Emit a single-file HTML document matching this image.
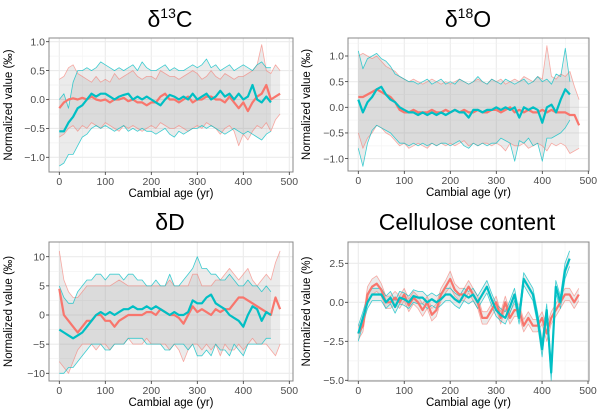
<!DOCTYPE html>
<html><head><meta charset="utf-8"><style>
html,body{margin:0;padding:0;background:#fff;width:600px;height:415px;overflow:hidden}
svg{display:block;font-family:"Liberation Sans",sans-serif}
</style></head><body>
<svg id="chart" width="600" height="415" viewBox="0 0 600 415"></svg>
<script>
// ---- data (ages: step 10 yr from 0) ----
const ageStep = 10;
const xTicks = [0,100,200,300,400,500];
// d13C
const c13RedMean=[-0.15,-0.05,0.0,0.02,0.0,0.03,0.0,0.05,0.0,-0.02,0.0,-0.05,0.0,0.0,0.03,-0.03,0.0,-0.05,-0.05,-0.1,-0.05,-0.05,0.05,0.1,0.0,0.0,-0.05,0.0,0.05,-0.05,0.0,0.0,0.05,0.05,0.0,0.0,-0.05,0.05,-0.05,-0.15,-0.05,-0.2,-0.05,0.05,0.1,0.25,0.0,0.05,0.1];
const c13CyanMean=[-0.55,-0.55,-0.4,-0.3,-0.15,-0.1,0.0,0.1,0.05,0.1,0.1,0.05,0.0,0.05,0.08,0.1,0.0,0.05,0.0,0.05,0.0,-0.05,-0.1,0.0,0.08,0.05,0.0,0.05,0.0,0.1,0.0,0.05,0.1,0.0,0.05,0.15,0.05,0.1,0.0,0.1,0.0,0.05,0.25,0.0,-0.05,0.05,-0.05];
const c13RedUp=[0.35,0.4,0.55,0.6,0.45,0.4,0.35,0.3,0.4,0.3,0.35,0.3,0.45,0.35,0.4,0.45,0.5,0.4,0.35,0.4,0.4,0.35,0.5,0.45,0.4,0.4,0.35,0.4,0.45,0.5,0.45,0.35,0.4,0.5,0.4,0.35,0.45,0.4,0.35,0.4,0.4,0.45,0.5,0.6,0.95,0.5,0.45,0.6,0.5];
const c13RedLo=[-0.65,-0.6,-0.5,-0.45,-0.55,-0.45,-0.5,-0.4,-0.45,-0.5,-0.4,-0.45,-0.5,-0.55,-0.45,-0.5,-0.45,-0.5,-0.55,-0.5,-0.45,-0.5,-0.4,-0.45,-0.5,-0.5,-0.45,-0.5,-0.55,-0.5,-0.45,-0.5,-0.4,-0.45,-0.5,-0.6,-0.5,-0.45,-0.55,-0.8,-0.6,-0.7,-0.55,-0.45,-0.5,-0.4,-0.55,-0.35,-0.25];
const c13CyanUp=[0.0,0.1,-0.15,0.3,0.5,0.5,0.55,0.5,0.55,0.65,0.6,0.55,0.5,0.55,0.5,0.55,0.6,0.5,0.65,0.55,0.5,0.5,0.55,0.6,0.5,0.55,0.5,0.5,0.55,0.6,0.55,0.6,0.7,0.55,0.6,0.5,0.55,0.6,0.5,0.55,0.6,0.55,0.5,0.6,0.65,0.55,0.55];
const c13CyanLo=[-1.15,-1.1,-0.95,-0.95,-0.8,-0.65,-0.6,-0.5,-0.45,-0.5,-0.45,-0.5,-0.55,-0.5,-0.45,-0.55,-0.5,-0.55,-0.5,-0.55,-0.55,-0.6,-0.55,-0.5,-0.6,-0.65,-0.55,-0.6,-0.55,-0.5,-0.5,-0.45,-0.5,-0.45,-0.5,-0.55,-0.6,-0.55,-0.5,-0.55,-0.6,-0.55,-0.6,-0.65,-0.7,-0.6,-0.55];
const c13YTicks=[-1.0,-0.5,0.0,0.5,1.0];
const c13YLabels=["\u22121.0","\u22120.5","0.0","0.5","1.0"];
// d18O
const o18RedMean=[0.2,0.2,0.25,0.3,0.35,0.3,0.25,0.2,0.1,-0.05,-0.1,-0.1,-0.05,-0.1,-0.1,-0.1,-0.05,-0.1,-0.1,-0.05,-0.1,-0.05,-0.1,-0.05,-0.1,-0.1,-0.05,-0.1,-0.1,-0.05,-0.05,-0.1,-0.05,0.0,-0.1,-0.05,-0.1,-0.05,-0.1,-0.1,-0.05,-0.1,-0.05,-0.1,-0.1,-0.1,-0.15,-0.15,-0.35];
const o18CyanMean=[0.15,-0.1,0.1,0.2,0.35,0.4,0.25,0.15,0.1,0.0,-0.05,-0.1,-0.1,-0.15,-0.1,-0.15,-0.1,-0.15,-0.1,-0.15,-0.1,-0.05,-0.1,-0.1,-0.2,-0.05,-0.05,-0.1,-0.05,-0.05,0.0,-0.05,0.0,-0.05,0.0,-0.2,0.0,-0.05,0.0,-0.05,-0.3,0.0,0.05,-0.1,0.15,0.35,0.25];
const o18RedUp=[1.0,1.05,1.0,0.95,1.0,0.9,0.8,0.75,0.7,0.6,0.55,0.5,0.55,0.5,0.45,0.5,0.55,0.5,0.45,0.5,0.45,0.5,0.55,0.5,0.45,0.5,0.55,0.5,0.45,0.55,0.5,0.55,0.45,0.5,0.55,0.5,0.6,0.55,0.5,0.6,0.55,1.2,0.6,0.55,0.65,0.6,0.7,0.4,0.15];
const o18RedLo=[-0.5,-0.8,-0.6,-0.5,-0.35,-0.4,-0.5,-0.55,-0.65,-0.75,-0.7,-0.8,-0.75,-0.7,-0.75,-0.8,-0.7,-0.75,-0.7,-0.75,-0.7,-0.75,-0.7,-0.65,-0.75,-0.7,-0.75,-0.7,-0.7,-0.75,-0.7,-0.75,-0.85,-0.7,-0.75,-0.75,-0.7,-0.8,-0.75,-0.7,-0.75,-0.85,-0.7,-0.75,-0.7,-0.75,-0.9,-0.85,-0.8];
const o18CyanUp=[1.1,0.75,0.95,1.0,1.05,0.95,0.9,0.8,0.65,0.6,0.55,0.5,0.5,0.45,0.5,0.55,0.45,0.5,0.55,0.45,0.5,0.45,0.55,0.5,0.45,0.5,0.6,0.5,0.45,0.55,0.5,0.45,0.55,0.5,0.45,0.5,0.55,0.45,0.5,0.6,0.5,0.55,0.45,0.65,0.6,1.15,0.5];
const o18CyanLo=[-0.8,-1.15,-0.7,-0.45,-0.35,-0.4,-0.45,-0.5,-0.6,-0.7,-0.7,-0.75,-0.7,-0.75,-0.7,-0.75,-0.7,-0.75,-0.7,-0.7,-0.75,-0.7,-0.65,-0.75,-0.8,-0.7,-0.75,-0.7,-0.75,-0.7,-0.7,-0.6,-0.65,-0.7,-1.05,-0.65,-0.7,-0.6,-0.75,-0.7,-1.05,-0.6,-0.6,-0.55,-0.5,-0.4,-0.25];
const o18YTicks=[-1.0,-0.5,0.0,0.5,1.0];
const o18YLabels=["\u22121.0","\u22120.5","0.0","0.5","1.0"];
// dD
const dDRedMean=[4.5,0,-1,-2,-3,-2,-1,-1,0,0,-1,-1,-2,-1,-0.5,0,0,0,0,0.5,0.5,0,1,0.5,0,0,-0.5,-1.5,0,1.5,0.5,1,0.5,0,1,0.5,1,1,2,3,3,2.5,2,1.5,1,0.5,0,3,1];
const dDCyanMean=[-2.5,-3,-3.5,-4,-3.5,-3,-2,-1,0,0.5,0,0.5,0,0.5,1,1,1.5,1,1,1.5,1,1.5,1,0.5,0,0.5,0,0,0.5,2.5,2,2,3,3.5,2,1.5,1,0,-0.5,-1,-2,0,1.5,1,-1,0.5,0];
const dDRedUp=[11,6,4,3,3,4,5,5,5,5,5,5,5.5,6,5.5,5,5,5,5,5,5,5,5,5,6,5,5,5,5,7,7,5,5,5,6,6,7,8,7,6,7,8,6,5,6,7,6,9,11];
const dDRedLo=[-8,-9,-10,-8,-6,-5,-5,-5,-6,-5,-5,-6,-5,-5,-5,-4,-5,-5,-5,-4,-5,-5,-5,-5,-6,-5,-6,-8,-6,-5,-5,-6,-5,-6,-5,-7,-5,-6,-6,-5,-6,-5,-4,-5,-5,-5,-6,-7,-5];
const dDCyanUp=[5,3,2,2,4,5,6,6,7,7,6,7,7,7,6,7,7,6,6,5,5,6,5,5,7,5,5,6,7,8,10,8,8,7,7,6,6,7,6,5,5,6,5,5,4,5,4];
const dDCyanLo=[-10,-10,-9,-9,-8,-7,-6,-5,-5,-5,-6,-6,-5,-5,-5,-4,-4,-4,-4,-5,-5,-5,-5,-6,-6,-5,-5,-5,-6,-5,-7,-7,-6,-7,-5,-6,-6,-7,-5,-6,-7,-5,-5,-5,-5,-4,-4];
const dDYTicks=[-10,-5,0,5,10];
const dDYLabels=["\u221210","\u22125","0","5","10"];
// cellulose
const celRedMean=[-2,-1.5,0.5,1,1.2,0.8,0,0,0.3,0,0.5,-0.2,0.3,0,-0.5,0,-0.8,-0.5,0.5,1,1.5,0.8,0.5,0.5,1,0.5,0,-1,-1,-0.5,0,-1,0,-1,-0.5,-0.5,-1.5,-1,-1.5,-1.5,-1,-2,-1,-0.5,0,0.5,0.5,0,0.5];
const celCyanMean=[-2,-1,0,0.5,0.5,0.5,0,0.3,-0.3,0.3,0.2,0,0.4,0.3,0.3,0,0.2,0,0.2,0.5,0.5,0.2,0,0.5,0.3,0.5,0,0.5,1,0.2,-0.5,-0.8,-1,-0.3,0.5,-1,1.5,1,0.5,-1,-3,-0.5,-4.5,1,0,2,2.8];
const celRedSE=[0.4,0.4,0.5,0.5,0.5,0.4,0.4,0.4,0.4,0.4,0.4,0.4,0.4,0.4,0.4,0.4,0.4,0.4,0.4,0.4,0.5,0.4,0.4,0.4,0.4,0.4,0.4,0.4,0.4,0.4,0.4,0.4,0.4,0.4,0.4,0.4,0.4,0.4,0.4,0.4,0.4,0.5,0.4,0.4,0.4,0.4,0.4,0.4,0.4];
const celCyanSE=[0.5,0.4,0.4,0.4,0.4,0.4,0.4,0.4,0.4,0.4,0.4,0.4,0.4,0.4,0.4,0.4,0.4,0.4,0.4,0.4,0.4,0.4,0.4,0.4,0.4,0.4,0.4,0.4,0.4,0.4,0.4,0.4,0.4,0.4,0.4,0.4,0.4,0.4,0.4,0.4,0.5,0.4,0.5,0.4,0.4,0.5,0.5];
const celYTicks=[-5.0,-2.5,0.0,2.5];
const celYLabels=["\u22125.0","\u22122.5","0.0","2.5"];

const NS="http://www.w3.org/2000/svg";
const svg=document.getElementById('chart');
const RED="#F8766D", CYAN="#00BFC4";
function mk(tag,attrs,parent){const e=document.createElementNS(NS,tag);for(const k in attrs)e.setAttribute(k,attrs[k]);(parent||svg).appendChild(e);return e;}

function panel(cfg){
  const g=mk('g',{});
  
  
  const xS=v=>cfg.x0+(v/500)*(cfg.x500-cfg.x0);
  const yS=v=>cfg.yZero-(v)*cfg.yUnit;
  // background and grid
  mk('rect',{x:cfg.L,y:cfg.T,width:cfg.R-cfg.L,height:cfg.B-cfg.T,fill:'#fff'},g);
  const grid=mk('g',{},g);
  
  
  for(let i=0;i<xTicks.length;i++){
    const xv=xTicks[i];
    mk('line',{x1:xS(xv),x2:xS(xv),y1:cfg.T,y2:cfg.B,stroke:'#ebebeb','stroke-width':1.1},grid);
    const xm=xv+50; if(xS(xm)<cfg.R) mk('line',{x1:xS(xm),x2:xS(xm),y1:cfg.T,y2:cfg.B,stroke:'#f3f3f3','stroke-width':0.6},grid);
  }
  const yt=cfg.yTicks, step=yt[1]-yt[0];
  for(let i=0;i<yt.length;i++){
    mk('line',{x1:cfg.L,x2:cfg.R,y1:yS(yt[i]),y2:yS(yt[i]),stroke:'#ebebeb','stroke-width':1.1},grid);
    [yt[i]-step/2,yt[i]+step/2].forEach(m=>{const yy=yS(m); if(yy>cfg.T&&yy<cfg.B) mk('line',{x1:cfg.L,x2:cfg.R,y1:yy,y2:yy,stroke:'#f3f3f3','stroke-width':0.6},grid);});
  }
  // ribbons
  function ribbon(up,lo,nm){
    let d='';
    for(let i=0;i<up.length;i++) d+=(i?'L':'M')+xS(i*ageStep).toFixed(1)+','+yS(up[i]).toFixed(1);
    for(let i=lo.length-1;i>=0;i--) d+='L'+xS(i*ageStep).toFixed(1)+','+yS(lo[i]).toFixed(1);
    const p=mk('path',{d:d+'Z',fill:'#999','fill-opacity':0.2,stroke:'none'},g);
    
    
  }
  function line(arr,col,w,op,nm){
    let d='';
    for(let i=0;i<arr.length;i++) d+=(i?'L':'M')+xS(i*ageStep).toFixed(1)+','+yS(arr[i]).toFixed(1);
    const p=mk('path',{d:d,fill:'none',stroke:col,'stroke-width':w,'stroke-opacity':op,'stroke-linejoin':'round'},g);
    
    
  }
  ribbon(cfg.redUp,cfg.redLo,cfg.name+'-red-band');
  ribbon(cfg.cyanUp,cfg.cyanLo,cfg.name+'-cyan-band');
  line(cfg.redUp,RED,0.8,0.6,cfg.name+'-red-upper');
  line(cfg.redLo,RED,0.8,0.6,cfg.name+'-red-lower');
  line(cfg.cyanUp,CYAN,0.8,0.75,cfg.name+'-cyan-upper');
  line(cfg.cyanLo,CYAN,0.8,0.75,cfg.name+'-cyan-lower');
  line(cfg.redMean,RED,2.2,1,cfg.name+'-red-mean');
  line(cfg.cyanMean,CYAN,2.2,1,cfg.name+'-cyan-mean');
  // border
  const b=mk('rect',{x:cfg.L,y:cfg.T,width:cfg.R-cfg.L,height:cfg.B-cfg.T,fill:'none',stroke:'#888','stroke-width':1},g);
  
  
  // ticks
  for(let i=0;i<xTicks.length;i++){
    const xx=xS(xTicks[i]);
    mk('line',{x1:xx,x2:xx,y1:cfg.B,y2:cfg.B+3,stroke:'#333','stroke-width':0.8},g);
    const t=mk('text',{x:xx,y:cfg.B+13,'text-anchor':'middle','font-size':10.5,fill:'#4d4d4d'},g);
    t.textContent=xTicks[i];
    
    
  }
  for(let i=0;i<yt.length;i++){
    const yy=yS(yt[i]);
    mk('line',{x1:cfg.L-3,x2:cfg.L,y1:yy,y2:yy,stroke:'#333','stroke-width':0.8},g);
    const t=mk('text',{x:cfg.L-4,y:yy+3.7,'text-anchor':'end','font-size':10.5,fill:'#4d4d4d'},g);
    t.textContent=cfg.yLabels[i];
    
    
  }
  const xt=mk('text',{x:(cfg.L+cfg.R)/2,y:cfg.B+25,'text-anchor':'middle','font-size':11.5,fill:'#000'},g);
  xt.textContent='Cambial age (yr)';
  
  
  const cy=(cfg.T+cfg.B)/2;
  const ytl=mk('text',{x:cfg.yTitleX,y:cy,'text-anchor':'middle','font-size':11.5,fill:'#000',transform:`rotate(-90 ${cfg.yTitleX} ${cy})`},g);
  ytl.textContent=cfg.yTitle;
  
  
  const ti=mk('text',{x:cfg.titleX,y:cfg.titleY,'text-anchor':'middle','font-size':23,fill:'#000'},g);
  ti.innerHTML=cfg.title;
  
  
}

panel({name:'d13c',L:49,R:293,T:38,B:172,x0:59.3,x500:289.3,yZero:99.5,yUnit:57.8,
  yTicks:c13YTicks,yLabels:c13YLabels,redMean:c13RedMean,cyanMean:c13CyanMean,redUp:c13RedUp,redLo:c13RedLo,cyanUp:c13CyanUp,cyanLo:c13CyanLo,
  yTitle:'Normalized value (\u2030)',yTitleX:12,title:'\u03b4<tspan dy="-9" font-size="14">13</tspan><tspan dy="9">C</tspan>',titleX:170,titleY:27});
panel({name:'d18o',L:348,R:589,T:38,B:171,x0:358.3,x500:588.3,yZero:107.3,yUnit:51.3,
  yTicks:o18YTicks,yLabels:o18YLabels,redMean:o18RedMean,cyanMean:o18CyanMean,redUp:o18RedUp,redLo:o18RedLo,cyanUp:o18CyanUp,cyanLo:o18CyanLo,
  yTitle:'Normalized value (\u2030)',yTitleX:310,title:'\u03b4<tspan dy="-9" font-size="14">18</tspan><tspan dy="9">O</tspan>',titleX:468,titleY:27});
panel({name:'dd',L:49,R:293,T:242,B:381,x0:59.3,x500:289.3,yZero:315,yUnit:5.83,
  yTicks:dDYTicks,yLabels:dDYLabels,redMean:dDRedMean,cyanMean:dDCyanMean,redUp:dDRedUp,redLo:dDRedLo,cyanUp:dDCyanUp,cyanLo:dDCyanLo,
  yTitle:'Normalized value (\u2030)',yTitleX:12,title:'\u03b4D',titleX:170,titleY:230});
const celRedUp=celRedMean.map((v,i)=>v+celRedSE[i]), celRedLo=celRedMean.map((v,i)=>v-celRedSE[i]);
const celCyanUp=celCyanMean.map((v,i)=>v+celCyanSE[i]), celCyanLo=celCyanMean.map((v,i)=>v-celCyanSE[i]);
panel({name:'cellulose',L:348,R:589,T:242,B:381,x0:358.3,x500:588,yZero:302.3,yUnit:15.6,
  yTicks:celYTicks,yLabels:celYLabels,redMean:celRedMean,cyanMean:celCyanMean,redUp:celRedUp,redLo:celRedLo,cyanUp:celCyanUp,cyanLo:celCyanLo,
  yTitle:'Normalized value  (%)',yTitleX:310,title:'Cellulose content',titleX:467,titleY:230});
</script>
</body></html>
